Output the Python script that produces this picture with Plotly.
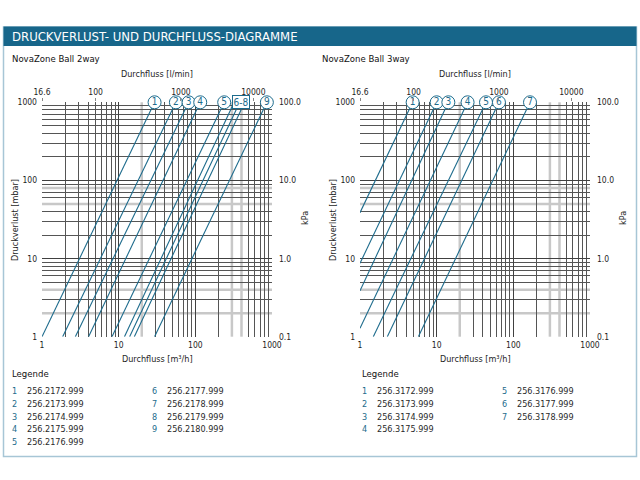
import plotly.graph_objects as go
import math

# ---------------- data ----------------
# NovaZone Ball 2way: each line from (q_start, dp_start) to (q_end, dp_end)  [m3/h, mbar]
ids_2way = ["1", "2", "3", "4", "5", "6", "7", "8", "9"]
q_start_2way = [1.0, 1.86, 2.72, 4.05, 8.18, 11.9, 13.9, 16.0, 29.4]
dp_start_2way = [1, 1, 1, 1, 1, 1, 1, 1, 1]
q_end_2way = [29.4, 55.8, 81.7, 115.8, 238, 321, 379, 440, 857]
dp_end_2way = [1000, 1000, 1000, 1000, 1000, 1000, 1000, 1000, 1000]
codes_2way = ["256.2172.999", "256.2173.999", "256.2174.999", "256.2175.999",
              "256.2176.999", "256.2177.999", "256.2178.999", "256.2179.999",
              "256.2180.999"]

# NovaZone Ball 3way
ids_3way = ["1", "2", "3", "4", "5", "6", "7"]
q_start_3way = [1, 1, 1, 1, 1.49, 2.27, 5.77]
dp_start_3way = [38.7, 8.7, 3.88, 1.28, 1, 1, 1]
q_end_3way = [4.86, 10.0, 14.2, 25.3, 44.0, 64.9, 165]
dp_end_3way = [1000, 1000, 1000, 1000, 1000, 1000, 1000]
codes_3way = ["256.3172.999", "256.3173.999", "256.3174.999", "256.3175.999",
              "256.3176.999", "256.3177.999", "256.3178.999"]

# axis tick labels
x_ticks = [1, 10, 100, 1000]
x_ticktext = ["1", "10", "100", "1000"]
y_ticks = [1, 10, 100, 1000]
y_ticktext = ["1", "10", "100", "1000"]
kpa_ticks = [0.1, 1, 10, 100]
kpa_ticktext = ["0.1", "1.0", "10.0", "100.0"]
lmin_tickpos = [1, 5, 65, 572]          # where the l/min labels sit on the m3/h scale
lmin_ticktext = ["16.6", "100", "1000", "10000"]
light_x = [20, 300, 400]                 # lighter grid lines
light_y = [2, 4, 50, 80]

# ---------------- styling ----------------
W, H = 640, 480
BLUE = "#1d6b8c"
HEAD = "#17668a"
GRID = "#404040"
MINOR = "#555555"
TXT = "#1e1e1e"
FONT = "Liberation Sans Narrow, DejaVu Sans Condensed, Roboto, sans-serif"

def px(x):
    return x / W

def py(y):
    return 1 - y / H

fig = go.Figure()

panels = [
    dict(ids=ids_2way, qs=q_start_2way, ds=dp_start_2way, qe=q_end_2way, de=dp_end_2way,
         codes=codes_2way, x0=42, x1=272, xs="x", ys="y", title="NovaZone Ball 2way",
         tx=10, group=("6", "7", "8"), ncol1=5, lx=10, lx2=150),
    dict(ids=ids_3way, qs=q_start_3way, ds=dp_start_3way, qe=q_end_3way, de=dp_end_3way,
         codes=codes_3way, x0=360, x1=590, xs="x2", ys="y2", title="NovaZone Ball 3way",
         tx=320, group=(), ncol1=4, lx=360, lx2=500),
]

Y_TOP, Y_BOT = 102.3, 336.7
annotations = []
shapes = []

minor_all = [m * 10 ** e for e in range(3) for m in range(2, 10)]
minor_x = [v for v in minor_all if v not in light_x]
minor_y = [v for v in minor_all if v not in light_y]

for i, p in enumerate(panels):
    n = i + 1
    xa = "xaxis" if n == 1 else "xaxis2"
    ya = "yaxis" if n == 1 else "yaxis2"
    xtop = "xaxis%d" % (n + 2)
    yright = "yaxis%d" % (n + 2)
    dom_x = [px(p["x0"]), px(p["x1"])]
    dom_y = [py(Y_BOT), py(Y_TOP)]

    # light grey grid lines
    for v in light_x:
        shapes.append(dict(type="line", xref=p["xs"], yref="paper", x0=v, x1=v,
                           y0=dom_y[0], y1=dom_y[1], line=dict(color="#c8c8c8", width=2.5),
                           layer="below"))
    for v in light_y:
        shapes.append(dict(type="line", xref="paper", yref=p["ys"], x0=dom_x[0], x1=dom_x[1],
                           y0=v, y1=v, line=dict(color="#c8c8c8", width=2.5), layer="below"))

    for k in range(len(p["ids"])):
        fig.add_trace(go.Scatter(x=[p["qs"][k], p["qe"][k]], y=[p["ds"][k], p["de"][k]],
                                 mode="lines", line=dict(color=BLUE, width=1.1),
                                 xaxis=p["xs"], yaxis=p["ys"], showlegend=False,
                                 hoverinfo="skip"))
    # circled labels
    cx = [p["qe"][k] for k in range(len(p["ids"])) if p["ids"][k] not in p["group"]]
    cy = [p["de"][k] for k in range(len(p["ids"])) if p["ids"][k] not in p["group"]]
    ct = [p["ids"][k] for k in range(len(p["ids"])) if p["ids"][k] not in p["group"]]
    fig.add_trace(go.Scatter(x=cx, y=cy, mode="markers+text", text=ct,
                             textposition="middle center",
                             textfont=dict(family=FONT, size=10, color=BLUE),
                             marker=dict(size=13, color="white", line=dict(color=BLUE, width=1)),
                             xaxis=p["xs"], yaxis=p["ys"], showlegend=False, cliponaxis=False,
                             hoverinfo="skip"))
    if p["group"]:
        gq = [p["qe"][k] for k in range(len(p["ids"])) if p["ids"][k] in p["group"]]
        gx = math.exp(sum(math.log(v) for v in gq) / len(gq)) * 1.06
        annotations.append(dict(x=math.log10(gx), y=3, xref=p["xs"], yref=p["ys"],
                                text="%s-%s" % (p["group"][0], p["group"][-1]), showarrow=False,
                                font=dict(family=FONT, size=10, color=BLUE), bgcolor="white",
                                bordercolor=BLUE, borderwidth=1, borderpad=0.5,
                                xanchor="center", yanchor="middle"))

    axis_common = dict(type="log", range=[0, 3], showline=False, zeroline=False,
                       automargin=False,
                       tickfont=dict(family=FONT, size=8.5, color=TXT), ticks="")
    fig.layout[xa] = dict(axis_common, domain=dom_x, anchor=p["ys"], tickvals=x_ticks,
                          ticktext=x_ticktext, showgrid=True, gridcolor=GRID, gridwidth=1,
                          minor=dict(tickvals=minor_x, showgrid=True, gridcolor=MINOR,
                                     gridwidth=1, ticks=""),
                          ticklabelstandoff=2)
    fig.layout[ya] = dict(axis_common, domain=dom_y, anchor=p["xs"], tickvals=y_ticks,
                          ticktext=y_ticktext, showgrid=True, gridcolor=GRID, gridwidth=1,
                          minor=dict(tickvals=minor_y, showgrid=True, gridcolor=MINOR,
                                     gridwidth=1, ticks=""),
                          ticklabelstandoff=4)
    fig.layout[xtop] = dict(axis_common, overlaying=p["xs"], side="top", anchor=p["ys"],
                            tickvals=lmin_tickpos, ticktext=lmin_ticktext, showgrid=False,
                            ticks="outside", ticklen=3, tickcolor="#888")
    fig.layout[yright] = dict(type="log", range=[-1, 2], overlaying=p["ys"], side="right",
                              anchor=p["xs"], tickvals=kpa_ticks, ticktext=kpa_ticktext,
                              showgrid=False, zeroline=False, showline=False, automargin=False,
                              tickfont=dict(family=FONT, size=8.5, color=TXT),
                              ticklabelstandoff=6)
    # dummy traces to activate the secondary axes
    xt = "x%d" % (n + 2)
    yr = "y%d" % (n + 2)
    fig.add_trace(go.Scatter(x=[1], y=[1], xaxis=xt, yaxis=p["ys"], mode="markers",
                             marker=dict(opacity=0), showlegend=False, hoverinfo="skip"))
    fig.add_trace(go.Scatter(x=[1], y=[1], xaxis=p["xs"], yaxis=yr, mode="markers",
                             marker=dict(opacity=0), showlegend=False, hoverinfo="skip"))

    cxm = (p["x0"] + p["x1"]) / 2
    txt = dict(family=FONT, size=9, color=TXT)
    annotations += [
        dict(x=px(p["tx"]), y=py(58), xref="paper", yref="paper", text=p["title"],
             showarrow=False, xanchor="left", yanchor="middle",
             font=dict(family=FONT, size=9.5, color="#111")),
        dict(x=px(cxm), y=py(74), xref="paper", yref="paper", text="Durchfluss [l/min]",
             showarrow=False, xanchor="center", yanchor="middle", font=txt),
        dict(x=px(cxm), y=py(359), xref="paper", yref="paper", text="Durchfluss [m³/h]",
             showarrow=False, xanchor="center", yanchor="middle", font=txt),
        dict(x=px(p["x0"] - 27), y=py(220), xref="paper", yref="paper",
             text="Druckverlust [mbar]", textangle=-90, showarrow=False,
             xanchor="center", yanchor="middle", font=txt),
        dict(x=px(p["x1"] + 33), y=py(218), xref="paper", yref="paper", text="kPa",
             textangle=-90, showarrow=False, xanchor="center", yanchor="middle", font=txt),
        dict(x=px(p["lx"]), y=py(373), xref="paper", yref="paper", text="Legende",
             showarrow=False, xanchor="left", yanchor="middle",
             font=dict(family=FONT, size=9.5, color="#111")),
    ]
    for k, code in enumerate(p["codes"]):
        col = 0 if k < p["ncol1"] else 1
        row = k if col == 0 else k - p["ncol1"]
        xx = p["lx"] if col == 0 else p["lx2"]
        yy = 391 + row * 12.8
        annotations.append(dict(x=px(xx), y=py(yy), xref="paper", yref="paper",
                                text=p["ids"][k], showarrow=False, xanchor="left",
                                yanchor="middle", font=dict(family=FONT, size=9, color=BLUE)))
        annotations.append(dict(x=px(xx + 15), y=py(yy), xref="paper", yref="paper",
                                text=code, showarrow=False, xanchor="left",
                                yanchor="middle", font=dict(family=FONT, size=9, color="#2a2a2a")))

# header & frame
shapes.append(dict(type="rect", xref="paper", yref="paper", x0=px(3.5), x1=px(636.5),
                   y0=py(456.5), y1=py(27), line=dict(color="#a7c6d6", width=1.5),
                   fillcolor="rgba(0,0,0,0)", layer="below"))
shapes.append(dict(type="rect", xref="paper", yref="paper", x0=px(3.5), x1=px(636.5),
                   y0=py(46), y1=py(26.5), line=dict(width=0), fillcolor=HEAD, layer="below"))
annotations.append(dict(x=px(10), y=py(36.5), xref="paper", yref="paper",
                        text="DRUCKVERLUST- UND DURCHFLUSS-DIAGRAMME", showarrow=False,
                        xanchor="left", yanchor="middle",
                        font=dict(family=FONT, size=13, color="white")))

fig.update_layout(width=W, height=H, margin=dict(l=0, r=0, t=0, b=0),
                  paper_bgcolor="white", plot_bgcolor="white",
                  annotations=annotations, shapes=shapes, showlegend=False)

fig.write_html("out.html")
